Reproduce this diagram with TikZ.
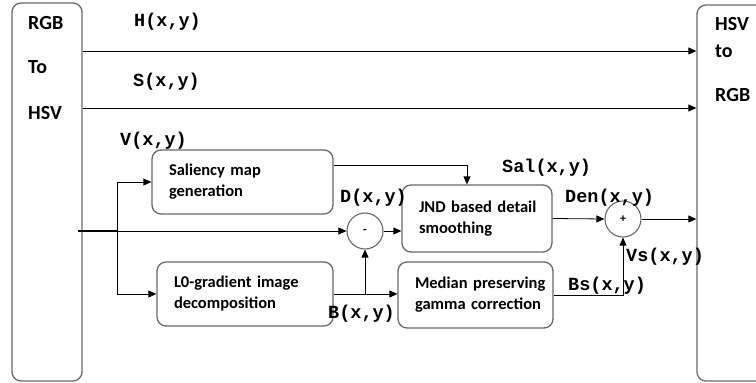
\documentclass[tikz,border=0pt]{standalone}
\usepackage{fontspec}
\setmainfont{Carlito}
\newfontfamily\sigfont{Liberation Mono}
\usetikzlibrary{arrows.meta,positioning,calc}
\definecolor{boxgray}{RGB}{105,105,105}

\newcommand{\boxline}[1]{\mbox{#1}}

\tikzset{
  blockbox/.style={draw=boxgray, line width=1.3pt, rounded corners=9pt, align=left,
    font=\bfseries\fontsize{16.5}{21}\selectfont, inner xsep=17pt},
  sidetext/.style={anchor=north west, inner sep=0pt, align=left,
    font=\bfseries\fontsize{20}{20}\selectfont},
  sumnode/.style={draw=boxgray, circle, line width=1.1pt, minimum size=36pt, inner sep=0pt,
    font=\bfseries\fontsize{12}{12}\selectfont},
  sig/.style={anchor=west, inner sep=0pt, font=\sigfont\bfseries\fontsize{18.5}{20}\selectfont},
  arr/.style={-{Triangle[length=8pt,width=7pt]}, line width=0.8pt},
}

\begin{document}
\begin{tikzpicture}[x=1pt, y=-1pt]
  \useasboundingbox (0,0) rectangle (756,383);

  % colour space converters
  \node[blockbox, minimum width=70pt, minimum height=378pt] (rgbhsv) at (47,192) {};
  \node[sidetext] at (28,16) {RGB\\[24pt]To\\[26pt]HSV};
  \begin{scope}
    \clip (0,0) rectangle (756,383);
    \node[blockbox, minimum width=84pt, minimum height=376pt] (hsvrgb) at (739,193) {};
  \end{scope}
  \node[sidetext] at (715,17) {HSV\\[7pt]to\\[24pt]RGB};

  % processing blocks
  \node[blockbox, text width=147pt, minimum height=64pt] (sal) at (242.5,182)
    {\boxline{Saliency map}\\\boxline{generation}};
  \node[blockbox, text width=142pt, minimum height=64pt] (lzero) at (245,294)
    {\boxline{L0-gradient image}\\\boxline{decomposition}};
  \node[blockbox, text width=116pt, minimum height=67pt] (jnd) at (477,218.5)
    {\boxline{JND based detail}\\\boxline{smoothing}};
  \node[blockbox, text width=121pt, minimum height=66pt] (median) at (475.5,295)
    {\boxline{Median preserving}\\\boxline{gamma correction}};
  \node[sumnode] (minus) at (365,231) {-};
  \node[sumnode] (plus) at (623,219) {+};

  % H and S go straight through
  \draw[arr] (rgbhsv.east |- 0,51) -- (hsvrgb.west |- 0,51);
  \draw[arr] (rgbhsv.east |- 0,108) -- (hsvrgb.west |- 0,108);
  \node[sig] at (134,22) {H(x,y)};
  \node[sig] at (133,82) {S(x,y)};

  % V channel
  \coordinate (vstart) at (78,231);
  \coordinate (fork) at (117,231);
  \draw[line width=1.5pt] (vstart) -- (fork);
  \draw[arr] (fork) -- (minus.west);
  \draw[arr] (fork) |- (sal.west);
  \draw[arr] (fork) |- (lzero.west);
  \node[sig] at (120,141) {V(x,y)};

  \draw[arr] ([yshift=17pt]sal.east) -| ([xshift=-10pt]jnd.north);
  \draw[arr] (minus.east) -- (minus.east -| jnd.west);
  \draw[arr] (lzero.east) -- (lzero.east -| median.west);
  \draw[arr] (lzero.east -| minus.south) -- (minus.south);
  \draw[arr] (jnd.east) -- (plus.west);
  \draw[arr] (median.east) -| (plus.south);
  \draw[arr] (plus.east) -- (plus.east -| hsvrgb.west);

  \node[sig] at (340,198) {D(x,y)};
  \node[sig] at (328,314) {B(x,y)};
  \node[sig] at (502,168) {Sal(x,y)};
  \node[sig] at (565,198) {Den(x,y)};
  \node[sig] at (626,257) {Vs(x,y)};
  \node[sig] at (568,286) {Bs(x,y)};
\end{tikzpicture}
\end{document}
